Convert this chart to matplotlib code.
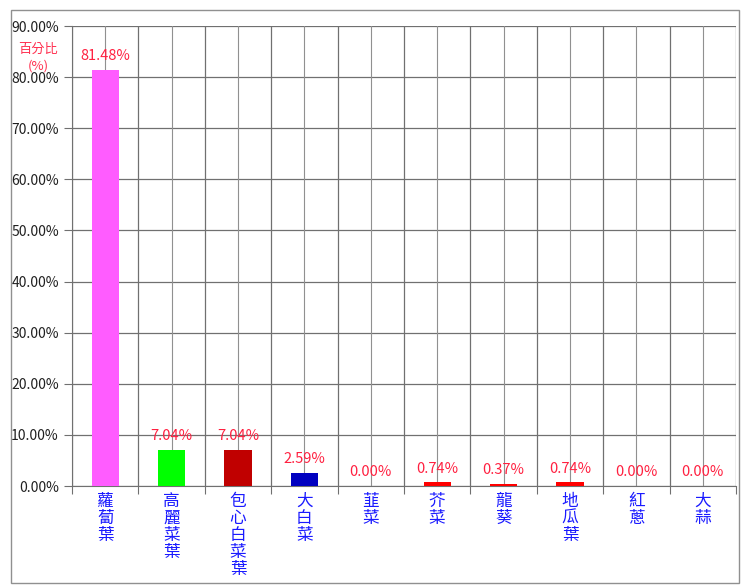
import matplotlib.pyplot as plt
import numpy as np
from matplotlib.patches import Rectangle
from matplotlib.ticker import FuncFormatter, MultipleLocator

plt.rcParams['font.family'] = ['Noto Sans CJK TC', 'DejaVu Sans']

categories = ["蘿蔔葉", "高麗菜葉", "包心白菜葉", "大白菜", "韮菜", "芥菜", "龍葵", "地瓜葉", "紅蔥", "大蒜"]
percents = [81.48, 7.04, 7.04, 2.59, 0.00, 0.74, 0.37, 0.74, 0.00, 0.00]
bar_colors = ["#ff5cff", "#00ff00", "#c00000", "#0000c0", "#ff0000",
              "#ff0000", "#ff0000", "#ff0000", "#ff0000", "#ff0000"]

fig = plt.figure(figsize=(7.51, 5.86), dpi=100)
ax = fig.add_axes([72 / 751, 1 - 486 / 586, 664 / 751, 460 / 586])

x = np.arange(len(categories))
ax.bar(x, percents, width=0.41, color=bar_colors, zorder=3)

for xi, v in zip(x, percents):
    ax.text(xi, v + 1.3, f"{v:.2f}%", ha="center", va="bottom",
            color="#ff2040", fontsize=10.5, zorder=4)

ax.set_xlim(-0.5, len(categories) - 0.5)
ax.set_ylim(0, 90)
ax.yaxis.set_major_locator(MultipleLocator(10))
ax.yaxis.set_major_formatter(FuncFormatter(lambda v, _: f"{v:.2f}%"))

# grid at category borders and centres
for b in np.arange(-0.5, len(categories), 1.0):
    ax.axvline(b, color="#707070", lw=0.9, zorder=1)
for c in x:
    ax.axvline(c, color="#909090", lw=0.8, zorder=1)
ax.yaxis.grid(True, color="#707070", lw=0.9, zorder=1)
ax.set_axisbelow(True)

ax.set_xticks(np.arange(-0.5, len(categories), 1.0))
ax.set_xticklabels([])
ax.tick_params(axis="x", length=6, color="#707070")
ax.tick_params(axis="y", length=6, color="#707070", labelsize=10,
               labelcolor="#202020")

for xi, name in zip(x, categories):
    ax.text(xi, -1.4, "\n".join(name), ha="center", va="top", color="#1a1aff",
            fontsize=12, linespacing=1.0, transform=ax.transData)

for side in ["top", "right"]:
    ax.spines[side].set_visible(False)
ax.spines["left"].set_color("#707070")
ax.spines["bottom"].set_color("#707070")

fig.text(38 / 751, 1 - 58 / 586, "百分比\n(%)", ha="center", va="center",
         color="#ff3050", fontsize=9.5, linespacing=1.4)

fig.add_artist(Rectangle((11 / 751, 1 - 583 / 586), 728 / 751, 573 / 586,
                         transform=fig.transFigure, fill=False,
                         edgecolor="#909090", lw=1))

fig.savefig("out.png", dpi=100)
